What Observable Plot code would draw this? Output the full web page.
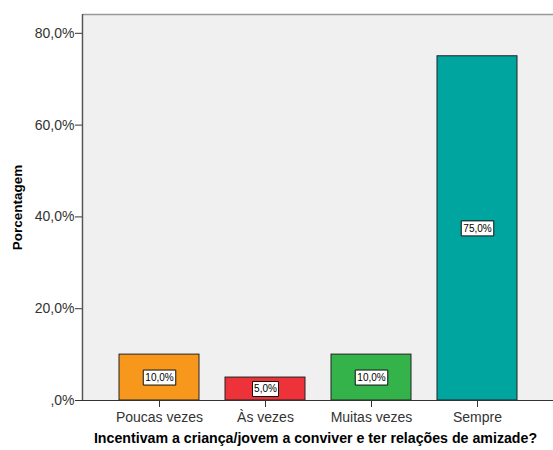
<!DOCTYPE html>
<html>
<head>
<meta charset="utf-8">
<script src="https://cdn.jsdelivr.net/npm/d3@7"></script>
<script src="https://cdn.jsdelivr.net/npm/@observablehq/plot@0.6"></script>
<style>
  html, body { margin: 0; padding: 0; background: #fff; }
</style>
</head>
<body>
<div id="chart"></div>
<script>
const categories = ["Poucas vezes", "Às vezes", "Muitas vezes", "Sempre"];
const values = [10, 5, 10, 75];
const colors = ["#F7981D", "#EE3239", "#33B34A", "#00A5A0"];
const yTicks = [0, 20, 40, 60, 80];
const xTitle = "Incentivam a criança/jovem a conviver e ter relações de amizade?";
const yTitle = "Porcentagem";

const fmt = d => d === 0 ? ",0%" : d.toFixed(1).replace(".", ",") + "%";
const data = categories.map((c, i) => ({cat: c, v: values[i], color: colors[i], label: fmt(values[i])}));

function boxSymbol(w, h) {
  return {draw(ctx) { ctx.rect(-w / 2, -h / 2, w, h); }};
}

const labelMarks = data.map(d =>
  Plot.dot([d], {
    x: "cat", y: r => r.v / 2,
    symbol: boxSymbol(d.label.length * 6.5, 15),
    fill: "white", stroke: "#111", strokeWidth: 1
  })
);

const chart = Plot.plot({
  width: 553,
  height: 450,
  marginLeft: 83,
  marginRight: 0,
  marginTop: 14,
  marginBottom: 50,
  style: {fontFamily: "Arial, 'Liberation Sans', sans-serif", background: "white"},
  x: {domain: categories, paddingInner: 0.25, paddingOuter: 0.34, axis: null},
  y: {domain: [0, 84.1], axis: null},
  color: {type: "identity"},
  marks: [
    Plot.frame({fill: "#F0F0F0", stroke: null}),
    Plot.ruleY([84.1], {stroke: "#999", strokeWidth: 1.5}),
    Plot.barY(data, {x: "cat", y: "v", fill: "color", stroke: "#222", strokeWidth: 1}),
    ...labelMarks,
    Plot.text(data, {x: "cat", y: d => d.v / 2, text: "label", fontSize: 10, fill: "#000"}),
    Plot.axisY({ticks: yTicks, tickFormat: fmt, tickSize: 8, tickPadding: 1, fontSize: 14, fill: "#333", stroke: "#333", label: null}),
    Plot.axisX({tickSize: 7, tickPadding: 5, fontSize: 14, fill: "#333", stroke: "#333", label: null}),
    Plot.ruleY([0], {stroke: "#333", strokeWidth: 1.2}),
    Plot.text([xTitle], {frameAnchor: "bottom", textAnchor: "middle", dy: 42, dx: -3, text: d => d, fontSize: 14.2, fontWeight: "bold", fill: "#000"}),
    Plot.text([yTitle], {frameAnchor: "left", textAnchor: "middle", dx: -66, rotate: -90, text: d => d, fontSize: 13.5, fontWeight: "bold", fill: "#000"})
  ]
});

// left axis line
d3.select(chart).append("line")
  .attr("x1", 82.5).attr("x2", 82.5).attr("y1", 14).attr("y2", 400)
  .attr("stroke", "#555").attr("stroke-width", 1.5);

document.getElementById("chart").append(chart);
</script>
</body>
</html>
